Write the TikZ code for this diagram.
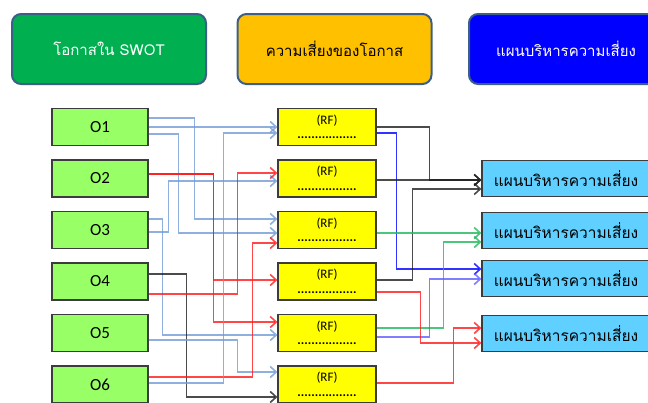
\documentclass[tikz,border=0pt]{standalone}
\usepackage{fontspec}
\setmainfont{Carlito}
\newfontfamily\thaifont[Script=Thai]{Loma}
\usetikzlibrary{arrows.meta}

\definecolor{headgreen}{RGB}{0,176,80}
\definecolor{headorange}{RGB}{255,192,0}
\definecolor{headblue}{RGB}{0,0,255}
\definecolor{edgeblue}{RGB}{60,95,135}
\definecolor{oppgreen}{RGB}{153,255,102}
\definecolor{riskyellow}{RGB}{255,255,0}
\definecolor{plancyan}{RGB}{95,208,255}
\definecolor{boxgray}{RGB}{60,60,60}
\definecolor{lineblue}{RGB}{115,155,215}
\definecolor{linered}{RGB}{255,25,25}
\definecolor{lineblack}{RGB}{30,30,30}
\definecolor{linegreen}{RGB}{30,185,90}
\definecolor{linedeep}{RGB}{0,0,255}
\definecolor{linesoft}{RGB}{95,95,255}

\tikzset{
	header/.style = {rounded corners = 9pt, draw = edgeblue, line width = 2pt, minimum width = 194pt, minimum height = 70pt, font = \fontsize{15}{17}\selectfont\thaifont},
	oppbox/.style = {draw = boxgray, line width = 1.2pt, fill = oppgreen, minimum width = 96pt, minimum height = 37pt, font = \fontsize{17}{19}\selectfont},
	riskbox/.style = {draw = boxgray, line width = 1.2pt, fill = riskyellow, minimum width = 98pt, minimum height = 37pt, align = center, inner sep = 1pt, font = \fontsize{13}{14.5}\selectfont},
	planbox/.style = {draw = boxgray, line width = 1.2pt, fill = plancyan, minimum width = 168pt, minimum height = 36pt, font = \fontsize{15.5}{17}\selectfont\thaifont},
	link/.style = {line width = 1.6pt, draw opacity = 0.8, -{Straight Barb[length = 6pt, width = 11pt]}}
}

\begin{document}
\begin{tikzpicture}[x = 1pt, y = -1pt]

	\useasboundingbox (0, 0) rectangle (648, 402);
	\clip (0, 0) rectangle (648, 402);

	% Column headers
	
	\node [header, fill = headgreen, text = white] (swot) at (109, 49) {โอกาสใน SWOT};
	\node [header, fill = headorange, text = black] (risk) at (334.5, 49) {ความเสี่ยงของโอกาส};
	\node [header, fill = headblue, text = white] (plan) at (566, 49) {แผนบริหารความเสี่ยง};
	
	% Opportunities and their risks
	
	\foreach \i/\y in {1/127, 2/178.5, 3/230, 4/281.5, 5/333, 6/384.5}
	{
		\node [oppbox] (O\i) at (100, \y) {O\i};
		\node [riskbox] (RF\i) at (327, \y) {(RF)\\\textbf{.................}};
	}
	
	% Risk plans
	
	\foreach \i/\y in {1/178.5, 2/230.5, 3/278.5, 4/333.5}
		\node [planbox] (P\i) at (566, \y) {แผนบริหารความเสี่ยง};
	
	% Opportunities to risks
	
	\draw [link, lineblue] ([yshift = 9pt]O1.east) -- ++(46, 0) |- ([yshift = 11pt]RF3.west);
	\draw [link, lineblue] (O1.east) -- (RF1.west);
	\draw [link, lineblue] ([yshift = -7pt]O1.east) -- ++(30, 0) |- ([yshift = -3pt]RF3.west);
	\draw [link, linered] ([yshift = 4.5pt]O2.east) -- ++(65, 0) |- ([yshift = 1.5pt]RF4.west);
	\draw [link, linered] ([yshift = 4.5pt]O2.east) -- ++(65, 0) |- ([yshift = 11pt]RF5.west);
	\draw [link, lineblue] ([yshift = 11pt]O3.east) -- ++(14, 0) |- ([yshift = -2pt]RF5.west);
	\draw [link, lineblue] ([yshift = -2pt]O3.east) -- ++(20, 0) |- ([yshift = -2.5pt]RF2.west);
	\draw [link, lineblack] ([yshift = 7.5pt]O4.east) -- ++(38, 0) |- ([yshift = -12.5pt]RF6.west);
	\draw [link, linered] ([yshift = -12.5pt]O4.east) -- ++(89, 0) |- ([yshift = 5.5pt]RF2.west);
	\draw [link, lineblue] ([yshift = -7pt]O5.east) -- ++(89, 0) |- ([yshift = 12.5pt]RF6.west);
	\draw [link, linered] ([yshift = 7.5pt]O6.east) -- ++(104, 0) |- ([yshift = -13pt]RF3.west);
	\draw [link, lineblue] ([yshift = 1.5pt]O6.east) -- ++(75, 0) |- ([yshift = -6pt]RF1.west);
	
	% Risks to plans
	
	\draw [link, lineblack] (RF1.east) -- ++(53, 0) |- ([yshift = -1.5pt]P1.west);
	\draw [link, linedeep] ([yshift = -6pt]RF1.east) -- ++(20, 0) |- ([yshift = 9.5pt]P3.west);
	\draw [link, lineblack] ([yshift = -1.5pt]RF2.east) -- ([yshift = -1.5pt]P1.west);
	\draw [link, lineblack] ([yshift = 1.5pt]RF4.east) -- ++(36, 0) |- ([yshift = -10.5pt]P1.west);
	\draw [link, linegreen] ([yshift = -3pt]RF3.east) -- ([yshift = -2.5pt]P2.west);
	\draw [link, linegreen] ([yshift = 5pt]RF5.east) -- ++(67, 0) |- ([yshift = -11.5pt]P2.west);
	\draw [link, linesoft] ([yshift = -4pt]RF5.east) -- ++(53, 0) |- ([yshift = -0.5pt]P3.west);
	\draw [link, linered] ([yshift = -10.5pt]RF4.east) -- ++(44, 0) |- ([yshift = -9.5pt]P4.west);
	\draw [link, linered] ([yshift = 1.5pt]RF6.east) -- ++(77, 0) |- ([yshift = 5.5pt]P4.west);

\end{tikzpicture}
\end{document}
